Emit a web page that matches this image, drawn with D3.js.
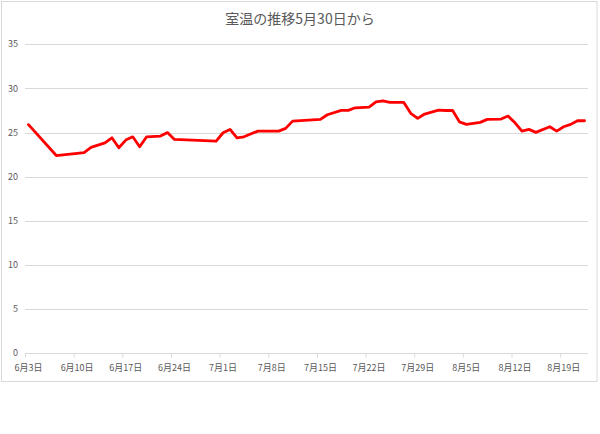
<!DOCTYPE html>
<html>
<head>
<meta charset="utf-8">
<script src="https://cdn.jsdelivr.net/npm/d3@7"></script>
<style>
  html, body { margin: 0; padding: 0; background: #fff; }
  svg { display: block; font-family: "Noto Sans CJK JP", "Noto Sans", sans-serif; }
</style>
</head>
<body>
<svg id="chart" width="600" height="434"></svg>
<script>
const title = "室温の推移5月30日から";
const dates = ["2020-06-03","2020-06-07","2020-06-11","2020-06-12","2020-06-14","2020-06-15","2020-06-16",
  "2020-06-17","2020-06-18","2020-06-19","2020-06-20","2020-06-22","2020-06-23","2020-06-24","2020-06-30",
  "2020-07-01","2020-07-02","2020-07-03","2020-07-04","2020-07-06","2020-07-09","2020-07-10","2020-07-11",
  "2020-07-15","2020-07-16","2020-07-18","2020-07-19","2020-07-20","2020-07-22","2020-07-23","2020-07-24",
  "2020-07-25","2020-07-27","2020-07-28","2020-07-29","2020-07-30","2020-08-01","2020-08-02","2020-08-03",
  "2020-08-04","2020-08-05","2020-08-07","2020-08-08","2020-08-10","2020-08-11","2020-08-12","2020-08-13",
  "2020-08-14","2020-08-15","2020-08-17","2020-08-18","2020-08-19","2020-08-20","2020-08-21","2020-08-22"];
const temps = [25.9,22.4,22.73,23.32,23.84,24.41,23.28,
  24.15,24.52,23.39,24.52,24.6,25.0,24.23,24.04,
  24.98,25.36,24.41,24.52,25.17,25.17,25.48,26.3,
  26.5,27.02,27.52,27.52,27.81,27.89,28.49,28.6,
  28.42,28.42,27.18,26.61,27.1,27.55,27.5,27.52,
  26.22,25.93,26.16,26.5,26.53,26.87,26.11,25.17,
  25.36,25.02,25.66,25.17,25.66,25.93,26.34,26.34];
const xTicks = ["2020-06-03","2020-06-10","2020-06-17","2020-06-24","2020-07-01","2020-07-08",
  "2020-07-15","2020-07-22","2020-07-29","2020-08-05","2020-08-12","2020-08-19"];
const yTicks = [0,5,10,15,20,25,30,35];
const xStart = "2020-06-03", xEnd = "2020-08-23";

const parse = d3.timeParse("%Y-%m-%d");
const fmt = d3.timeFormat("%-m月%-d日");
const data = dates.map((d, i) => ({ date: parse(d), v: temps[i] }));

const svg = d3.select("#chart");
const L = 25, R = 588, T = 44.3, B = 353.3;

// chart border
svg.append("rect").attr("x", 1.5).attr("y", 1.5).attr("width", 595.5).attr("height", 380)
  .attr("fill", "#fff").attr("stroke", "#d9d9d9").attr("stroke-width", 1);

const x = d3.scaleTime().domain([parse(xStart), parse(xEnd)]).range([L, R]);
const y = d3.scaleLinear().domain([0, 35]).range([B, T]);
const mid = d => d3.timeHour.offset(d, 12);

// gridlines
svg.append("g").selectAll("line").data(yTicks.filter(v => v > 0)).join("line")
  .attr("x1", L).attr("x2", R)
  .attr("y1", d => Math.round(y(d)) + 0.5).attr("y2", d => Math.round(y(d)) + 0.5)
  .attr("stroke", "#d9d9d9").attr("stroke-width", 1);

// y labels
svg.append("g").selectAll("text").data(yTicks).join("text")
  .attr("x", 18).attr("y", d => y(d)).attr("dy", "0.35em")
  .attr("text-anchor", "end").attr("font-size", 9).attr("fill", "#595959")
  .text(d => d);

// x axis
const xAxis = d3.axisBottom(x).tickValues(xTicks.map(parse)).tickSize(4).tickFormat("");
const gx = svg.append("g").attr("transform", `translate(0,${Math.round(B) + 0.5})`).call(xAxis);
gx.select(".domain").attr("stroke", "#d9d9d9").attr("d", `M${L},0H${R}`);
gx.selectAll(".tick line").attr("stroke", "#d9d9d9");
svg.append("g").selectAll("text").data(xTicks.map(parse)).join("text")
  .attr("x", d => x(mid(d))).attr("y", 370.5)
  .attr("text-anchor", "middle").attr("font-size", 9).attr("fill", "#595959")
  .text(d => fmt(d));

// line
const line = d3.line().x(d => x(mid(d.date))).y(d => y(d.v));
svg.append("path").datum(data).attr("d", line)
  .attr("fill", "none").attr("stroke", "#ff0000").attr("stroke-width", 2.8)
  .attr("stroke-linejoin", "round").attr("stroke-linecap", "round");

// title
svg.append("text").attr("x", 300).attr("y", 24).attr("text-anchor", "middle")
  .attr("font-size", 14).attr("fill", "#595959").text(title);
</script>
</body>
</html>
